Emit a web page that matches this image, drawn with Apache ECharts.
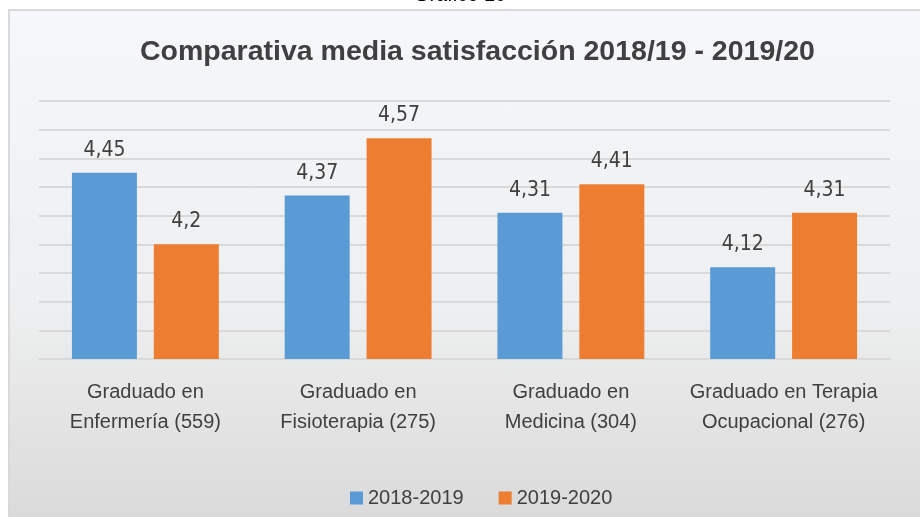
<!DOCTYPE html>
<html>
<head>
<meta charset="utf-8">
<script src="https://cdn.jsdelivr.net/npm/echarts@6/dist/echarts.min.js"></script>
<style>
  html, body { margin: 0; padding: 0; background: #fff; }
  #wrap { position: relative; width: 920px; height: 517px; overflow: hidden; }
  /* marco del gráfico con degradado */
  #frame {
    position: absolute; left: 8px; top: 9px; width: 930px; height: 530px;
    border: 2px solid #d9d9d9;
    background: linear-gradient(to bottom, #f5f7fa 0%, #eeeff0 55%, #d8d8d8 100%);
  }
  #chart { position: absolute; left: 0; top: 0; width: 920px; height: 517px; }
</style>
</head>
<body>
<div id="wrap">
  <div id="frame"></div>
  <div id="chart"></div>
</div>
<script>
var categorias = [
  "Graduado en\nEnfermería (559)",
  "Graduado en\nFisioterapia (275)",
  "Graduado en\nMedicina (304)",
  "Graduado en Terapia\nOcupacional (276)"
];
var curso1819 = [4.45, 4.37, 4.31, 4.12];
var curso1920 = [4.2, 4.57, 4.41, 4.31];
var nombres = ["2018-2019", "2019-2020"];

var fuenteNum = "'DejaVu Sans Condensed', sans-serif";
var fuente = "'Liberation Sans', Arial, sans-serif";

var chart = echarts.init(document.getElementById("chart"));

function etiqueta() {
  return {
    show: true,
    position: "top",
    distance: 12,
    fontFamily: fuenteNum,
    fontSize: 21,
    color: "#404040",
    formatter: function (p) {
      return String(p.value).replace(".", ",");
    }
  };
}

var option = {
  backgroundColor: "transparent",
  animation: false,
  title: {
    text: "Comparativa media satisfacción 2018/19 - 2019/20",
    left: 135,
    top: 33,
    textStyle: {
      fontFamily: fuente,
      fontWeight: "bold",
      fontSize: 28.5,
      color: "#404040"
    }
  },
  graphic: [
    {
      type: "text",
      left: "center",
      top: -15,
      style: {
        text: "Gráfico 10",
        font: "20px 'Liberation Sans', Arial, sans-serif",
        fill: "#000"
      }
    }
  ],
  legend: {
    data: nombres,
    left: 345,
    top: 483,
    itemWidth: 13,
    itemHeight: 13,
    itemGap: 35,
    icon: "rect",
    textStyle: {
      fontFamily: fuente,
      fontSize: 20,
      color: "#404040"
    }
  },
  grid: {
    left: 39,
    right: 30,
    top: 101,
    bottom: 158
  },
  xAxis: {
    type: "category",
    data: categorias,
    axisLine: { lineStyle: { color: "#d9d9d9", width: 2 } },
    axisTick: { show: false },
    axisLabel: {
      margin: 18,
      fontFamily: fuente,
      fontSize: 20,
      lineHeight: 30,
      color: "#404040",
      interval: 0
    }
  },
  yAxis: {
    type: "value",
    min: 3.8,
    max: 4.7,
    interval: 0.1,
    axisLabel: { show: false },
    axisLine: { show: false },
    axisTick: { show: false },
    splitLine: { lineStyle: { color: "#d9d9d9", width: 2 } }
  },
  series: [
    {
      name: nombres[0],
      type: "bar",
      data: curso1819,
      barWidth: 65,
      barGap: "26%",
      itemStyle: { color: "#5b9bd5" },
      label: etiqueta()
    },
    {
      name: nombres[1],
      type: "bar",
      data: curso1920,
      barWidth: 65,
      itemStyle: { color: "#ed7d31" },
      label: etiqueta()
    }
  ]
};

chart.setOption(option);
</script>
</body>
</html>
